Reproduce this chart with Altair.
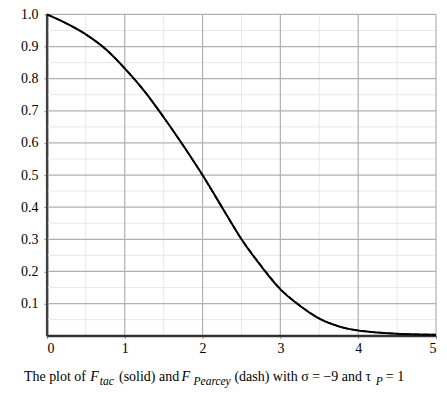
import altair as alt
import pandas as pd

# Curve values
x_vals = [0, 0.25, 0.5, 0.75, 1.0, 1.25, 1.5, 1.75, 2.0, 2.25, 2.5, 2.75,
          3.0, 3.25, 3.5, 3.75, 4.0, 4.25, 4.5, 4.75, 5.0]
f_tac = [1.0, 0.972, 0.938, 0.893, 0.832, 0.762, 0.680, 0.593, 0.500, 0.400,
         0.300, 0.217, 0.144, 0.093, 0.053, 0.029, 0.016, 0.010, 0.006, 0.004, 0.003]
f_pearcey = [1.0, 0.972, 0.938, 0.893, 0.832, 0.762, 0.680, 0.592, 0.499, 0.399,
             0.301, 0.219, 0.146, 0.094, 0.054, 0.029, 0.016, 0.010, 0.006, 0.004, 0.003]

x_major = [1, 2, 3, 4, 5]
x_minor = [0.5, 1.5, 2.5, 3.5, 4.5]
y_major = [0.1, 0.2, 0.3, 0.4, 0.5, 0.6, 0.7, 0.8, 0.9, 1.0]
y_minor = [0.05, 0.15, 0.25, 0.35, 0.45, 0.55, 0.65, 0.75, 0.85, 0.95]
x_ticks = [0, 1, 2, 3, 4, 5]
origin = [0]

FONT = "Liberation Serif"

curves = pd.DataFrame({
    "x": x_vals * 2,
    "y": f_tac + f_pearcey,
    "series": ["tac"] * len(x_vals) + ["pearcey"] * len(x_vals),
})

xs = alt.Scale(domain=[0, 5], nice=False, zero=False)
ys = alt.Scale(domain=[0, 1], nice=False, zero=False)

common = dict(title=None, grid=False, labelOverlap=False, labelFont=FONT,
              labelFontSize=14, labelColor="black", domainColor="#404040",
              domainWidth=2, tickColor="#909090", tickSize=3)
x_axis = alt.Axis(values=x_ticks, format="d", labelPadding=3, **common)
y_axis = alt.Axis(values=y_major, format=".1f", labelPadding=6, **common)

minor_v = alt.Chart(pd.DataFrame({"x": x_minor})).mark_rule(
    color="#e8e8e8", strokeWidth=1).encode(x=alt.X("x:Q", scale=xs, axis=x_axis))
minor_h = alt.Chart(pd.DataFrame({"y": y_minor})).mark_rule(
    color="#e8e8e8", strokeWidth=1).encode(y=alt.Y("y:Q", scale=ys, axis=y_axis))
major_v = alt.Chart(pd.DataFrame({"x": x_major})).mark_rule(
    color="#b0b0b0", strokeWidth=1.2).encode(x=alt.X("x:Q", scale=xs, axis=x_axis))
major_h = alt.Chart(pd.DataFrame({"y": y_major})).mark_rule(
    color="#b0b0b0", strokeWidth=1.2).encode(y=alt.Y("y:Q", scale=ys, axis=y_axis))
axis_v = alt.Chart(pd.DataFrame({"x": origin})).mark_rule(
    color="#404040", strokeWidth=2).encode(x=alt.X("x:Q", scale=xs, axis=x_axis))
axis_h = alt.Chart(pd.DataFrame({"y": origin})).mark_rule(
    color="#303030", strokeWidth=2).encode(y=alt.Y("y:Q", scale=ys, axis=y_axis))

solid = alt.Chart(curves).transform_filter(alt.datum.series == "tac").mark_line(
    color="black", strokeWidth=2, interpolate="monotone").encode(
    x=alt.X("x:Q", scale=xs, axis=x_axis),
    y=alt.Y("y:Q", scale=ys, axis=y_axis),
)
dashed = alt.Chart(curves).transform_filter(alt.datum.series == "pearcey").mark_line(
    color="black", strokeWidth=1.6, strokeDash=[6, 3], interpolate="monotone").encode(
    x=alt.X("x:Q", scale=xs, axis=x_axis), y=alt.Y("y:Q", scale=ys, axis=y_axis))

# Caption pieces (text, x, y, size, italic)
OX, OY = 47, 14
BASE = 381
SUB = BASE + 4
caption = [
    ("The plot of", 24, BASE, 14, "normal"),
    ("F", 90.5, BASE, 14, "italic"),
    ("tac", 100, SUB, 11.5, "italic"),
    ("(solid) and", 119.3, BASE, 14, "normal"),
    ("F", 182, BASE, 14, "italic"),
    ("Pearcey", 194, SUB, 11.5, "italic"),
    ("(dash) with σ = −9 and τ", 235, BASE, 14, "normal"),
    ("P", 376.5, SUB, 11.5, "italic"),
    ("= 1", 386.7, BASE, 14, "normal"),
]
cap_layers = []
for txt, px, py, fs, st in caption:
    cap_layers.append(
        alt.Chart(pd.DataFrame({"t": [txt]})).mark_text(
            align="left", baseline="alphabetic", font=FONT, fontSize=fs,
            fontStyle=st, color="black").encode(
            text="t:N", x=alt.value(px - OX), y=alt.value(py - OY))
    )

chart = alt.layer(minor_v, minor_h, major_v, major_h, axis_v, axis_h,
                  solid, dashed, *cap_layers).properties(
    width=390, height=322,
    background="white",
    autosize=alt.AutoSizeParams(type="none"),
    padding={"left": 39, "top": 6, "right": 3, "bottom": 58},
).configure_view(stroke=None)

chart.save("out.html", embed_options={"renderer": "svg", "actions": False})
